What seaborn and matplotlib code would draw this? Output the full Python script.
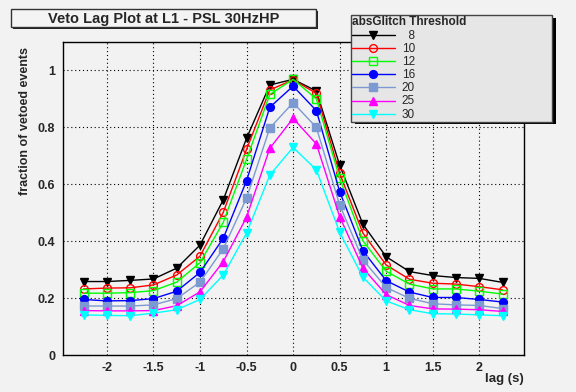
import matplotlib
matplotlib.use("Agg")
import matplotlib.pyplot as plt
import seaborn as sns
import pandas as pd
from matplotlib.patches import Rectangle
from matplotlib.ticker import MultipleLocator

lags = [-2.25, -2.0, -1.75, -1.5, -1.25, -1.0, -0.75, -0.5, -0.25, 0.0,
        0.25, 0.5, 0.75, 1.0, 1.25, 1.5, 1.75, 2.0, 2.25]

thresholds = ["8", "10", "12", "16", "20", "25", "30"]

frac_8 = [0.259, 0.259, 0.263, 0.268, 0.306, 0.387, 0.546, 0.762, 0.949, 0.969,
          0.928, 0.668, 0.460, 0.346, 0.294, 0.280, 0.273, 0.270, 0.256]
frac_10 = [0.233, 0.236, 0.237, 0.247, 0.282, 0.348, 0.502, 0.723, 0.932, 0.967,
           0.920, 0.639, 0.429, 0.317, 0.267, 0.253, 0.250, 0.241, 0.230]
frac_12 = [0.218, 0.218, 0.220, 0.227, 0.257, 0.325, 0.467, 0.688, 0.916, 0.969,
           0.900, 0.622, 0.402, 0.295, 0.250, 0.233, 0.233, 0.225, 0.215]
frac_16 = [0.196, 0.191, 0.192, 0.199, 0.225, 0.291, 0.411, 0.613, 0.871, 0.945,
           0.859, 0.575, 0.367, 0.262, 0.222, 0.203, 0.203, 0.196, 0.187]
frac_20 = [0.173, 0.173, 0.173, 0.177, 0.199, 0.257, 0.374, 0.552, 0.798, 0.887,
           0.800, 0.528, 0.335, 0.238, 0.200, 0.181, 0.177, 0.175, 0.164]
frac_25 = [0.157, 0.156, 0.156, 0.157, 0.174, 0.223, 0.329, 0.485, 0.727, 0.832,
           0.742, 0.487, 0.306, 0.213, 0.175, 0.163, 0.162, 0.160, 0.154]
frac_30 = [0.142, 0.140, 0.139, 0.148, 0.160, 0.196, 0.282, 0.429, 0.633, 0.730,
           0.651, 0.432, 0.274, 0.191, 0.160, 0.146, 0.145, 0.142, 0.139]

series = [frac_8, frac_10, frac_12, frac_16, frac_20, frac_25, frac_30]
colors = ["#000000", "#ff0000", "#00ff00", "#0000ff", "#7d99d1", "#ff00ff", "#00ffff"]
markers = ["v", "o", "s", "o", "s", "^", "v"]
filled = [True, False, False, True, True, True, True]

sns.set_style("white")
plt.rcParams["font.family"] = ["Liberation Sans", "DejaVu Sans"]

W, H = 576, 392
BG = "#f2f2f2"
fig = plt.figure(figsize=(W / 100, H / 100), dpi=100, facecolor=BG)

def fx(px):
    return px / W

def fy(py):
    return 1 - py / H

ax_l, ax_r, ax_t, ax_b = 62.7, 523.5, 42.0, 355.3
ax = fig.add_axes([fx(ax_l), fy(ax_b), fx(ax_r) - fx(ax_l), (ax_b - ax_t) / H])
ax.set_facecolor(BG)

for thr, vals, col, mk, fl in zip(thresholds, series, colors, markers, filled):
    df = pd.DataFrame({"lag": lags, "frac": vals})
    sns.lineplot(data=df, x="lag", y="frac", ax=ax, color=col, lw=1.0,
                 marker=mk, markersize=5.2 if mk != "o" else 5.6,
                 markerfacecolor=col if fl else "none",
                 markeredgecolor=col, markeredgewidth=1.0,
                 label=("  " + thr) if len(thr) == 1 else thr)

ax.set_xticks([-2, -1.5, -1, -0.5, 0, 0.5, 1, 1.5, 2])
ax.set_xticklabels(["-2", "-1.5", "-1", "-0.5", "0", "0.5", "1", "1.5", "2"])
ax.set_yticks([0, 0.2, 0.4, 0.6, 0.8, 1.0])
ax.set_yticklabels(["0", "0.2", "0.4", "0.6", "0.8", "1"])
ax.xaxis.set_minor_locator(MultipleLocator(0.1))
ax.yaxis.set_minor_locator(MultipleLocator(0.05))
ax.set_xlim(-2.475, 2.475)
ax.set_ylim(0, 1.1)

ax.grid(True, which="major", color="black", linestyle=(0, (1, 2.5)), lw=0.8)
ax.tick_params(axis="both", which="both", direction="in", top=False, right=False,
               labelsize=9, width=0.8, color="black")
ax.tick_params(axis="y", which="major", length=10, pad=5.5)
ax.tick_params(axis="y", which="minor", length=5)
ax.tick_params(axis="x", which="major", length=6.8, pad=4.5)
ax.tick_params(axis="x", which="minor", length=3.4)
for lab in ax.get_xticklabels() + ax.get_yticklabels():
    lab.set_fontweight("bold")
for sp in ax.spines.values():
    sp.set_color("black")
    sp.set_linewidth(1.0)

ax.set_ylabel("fraction of vetoed events", fontsize=9, fontweight="bold", loc="top")
ax.yaxis.set_label_coords(-0.069, 0.984)
ax.set_xlabel("lag (s)", fontsize=9.5, fontweight="bold", loc="right")
ax.xaxis.set_label_coords(1.0, -0.058)

# Legend (ROOT-style box with shadow)
handles, labels = ax.get_legend_handles_labels()
if ax.legend_:
    ax.legend_.remove()
lx0, lx1, ly0, ly1 = 350.7, 552.3, 15.0, 120.0
fig.add_artist(Rectangle((fx(lx0 + 4), fy(ly1 + 3.5)), fx(lx1 - lx0), (ly1 - ly0) / H,
                         transform=fig.transFigure, facecolor="black", edgecolor="none", zorder=4))
leg = fig.legend(handles, labels, loc="upper left",
                 bbox_to_anchor=(fx(lx0), fy(ly1), fx(lx1 - lx0), (ly1 - ly0) / H),
                 mode="expand", title="absGlitch Threshold", alignment="left",
                 fontsize=8.5, title_fontproperties={"weight": "bold", "size": 8.5},
                 frameon=True, fancybox=False, framealpha=1, facecolor="#e6e6e6",
                 edgecolor="#444444", borderpad=0.12, labelspacing=0.1,
                 handlelength=3.6, handleheight=0.6, handletextpad=0.6, borderaxespad=0)
leg.get_frame().set_linewidth(1.0)
leg.set_zorder(5)

# Title box with shadow
tx0, tx1, ty0, ty1 = 11.0, 316.0, 9.0, 26.7
fig.add_artist(Rectangle((fx(tx0 + 2), fy(ty1 + 2)), fx(tx1 - tx0), (ty1 - ty0) / H,
                         transform=fig.transFigure, facecolor="#222222", edgecolor="none", zorder=4))
fig.add_artist(Rectangle((fx(tx0), fy(ty1)), fx(tx1 - tx0), (ty1 - ty0) / H,
                         transform=fig.transFigure, facecolor="#f4f4f4", edgecolor="#333333",
                         lw=1.0, zorder=5))
fig.text(fx((tx0 + tx1) / 2), fy((ty0 + ty1) / 2), "Veto Lag Plot at L1 - PSL 30HzHP",
         ha="center", va="center_baseline", fontsize=10.5, fontweight="bold", zorder=6)

fig.savefig("out.png", dpi=100, facecolor=BG)
